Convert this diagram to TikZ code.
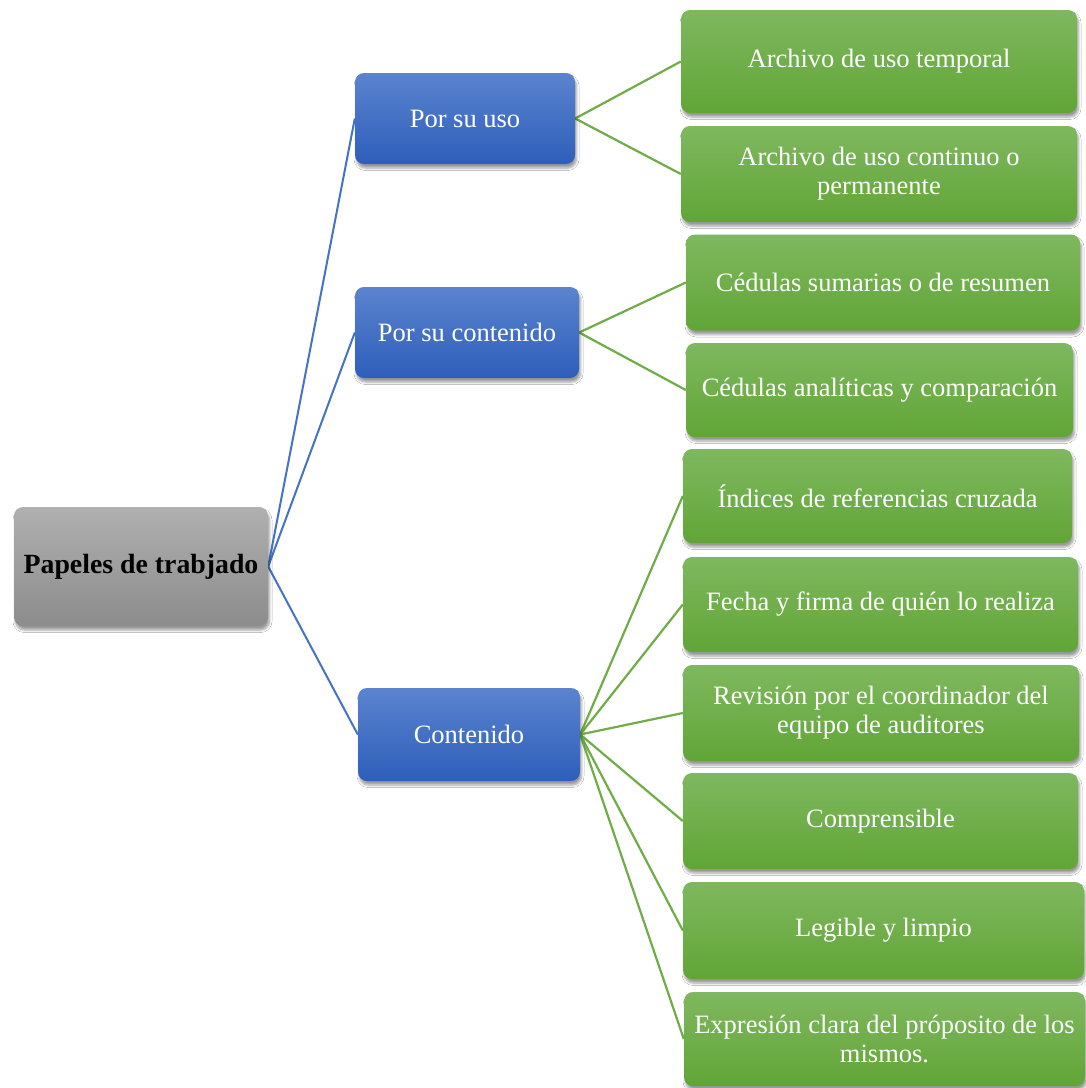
\documentclass[tikz,border=0pt]{standalone}
\usepackage{fontspec}
\setmainfont{Liberation Serif}
\usetikzlibrary{shadows.blur,backgrounds}
\definecolor{bluetop}{HTML}{5B84CF}
\definecolor{bluebot}{HTML}{2E5EBA}
\definecolor{greentop}{HTML}{7FB85F}
\definecolor{greenbot}{HTML}{61A536}
\definecolor{graytop}{HTML}{B0B0B0}
\definecolor{graybot}{HTML}{8C8C8C}
\definecolor{blueline}{HTML}{4472C4}
\definecolor{greenline}{HTML}{70AD47}
\begin{document}
\begin{tikzpicture}[x=1pt,y=-1pt,
  box/.style={rounded corners=9pt, inner sep=0pt, align=center,
    font=\fontsize{26.5}{29}\selectfont, text=white,
    blur shadow={shadow xshift=1.5pt, shadow yshift=-4pt, shadow blur steps=5,
      shadow blur radius=2.5pt, shadow opacity=40}},
  rootbox/.style={box, top color=graytop, bottom color=graybot, text=black,
    font=\fontsize{27.8}{30}\selectfont\bfseries},
  midbox/.style={box, top color=bluetop, bottom color=bluebot},
  leafbox/.style={box, top color=greentop, bottom color=greenbot},
  bline/.style={blueline, line width=2pt},
  gline/.style={greenline, line width=2.2pt}
]
\useasboundingbox (0,0) rectangle (1086,1088);

\node[rootbox, minimum width=254pt, minimum height=119pt] (root) at (141,566.5) {Papeles de trabjado};

\node[midbox, minimum width=220pt, minimum height=91pt] (uso) at (465,118.5) {Por su uso};
\node[midbox, minimum width=224pt, minimum height=91pt] (pcont) at (467,332.5) {Por su contenido};
\node[midbox, minimum width=222pt, minimum height=93pt] (cont) at (469,734.5) {Contenido};

\node[leafbox, minimum width=396pt, minimum height=103pt] (g1) at (879,61.5) {Archivo de uso temporal};
\node[leafbox, minimum width=396pt, minimum height=96pt] (g2) at (879,174) {Archivo de uso continuo o\\permanente};
\node[leafbox, minimum width=394pt, minimum height=96pt] (g3) at (883,282.5) {Cédulas sumarias o de resumen};
\node[leafbox, minimum width=387pt, minimum height=94pt] (g4) at (879.5,390) {Cédulas analíticas y comparación};
\node[leafbox, minimum width=389pt, minimum height=94pt] (g5) at (877.5,496) {Índices de referencias cruzada};
\node[leafbox, minimum width=395pt, minimum height=95pt] (g6) at (880.5,604.5) {Fecha y firma de quién lo realiza};
\node[leafbox, minimum width=396pt, minimum height=96pt] (g7) at (881,713) {Revisión por el coordinador del\\equipo de auditores};
\node[leafbox, minimum width=395pt, minimum height=96pt] (g8) at (880.5,821) {Comprensible};
\node[leafbox, minimum width=401pt, minimum height=97pt] (g9) at (883.5,930.5) {Legible y limpio};
\node[leafbox, minimum width=401pt, minimum height=94pt] (g10) at (884.5,1039) {Expresión clara del próposito de los\\mismos.};

\begin{scope}[on background layer]
\fill[white] (0,0) rectangle (1086,1088);
\draw[bline] (root.east) -- (uso.west);
\draw[bline] (root.east) -- (pcont.west);
\draw[bline] (root.east) -- (cont.west);
\draw[gline] (uso.east) -- (g1.west);
\draw[gline] (uso.east) -- (g2.west);
\draw[gline] (pcont.east) -- (g3.west);
\draw[gline] (pcont.east) -- (g4.west);
\foreach \g in {g5,g6,g7,g8,g9,g10}
  \draw[gline] (cont.east) -- (\g.west);
\end{scope}
\end{tikzpicture}
\end{document}
